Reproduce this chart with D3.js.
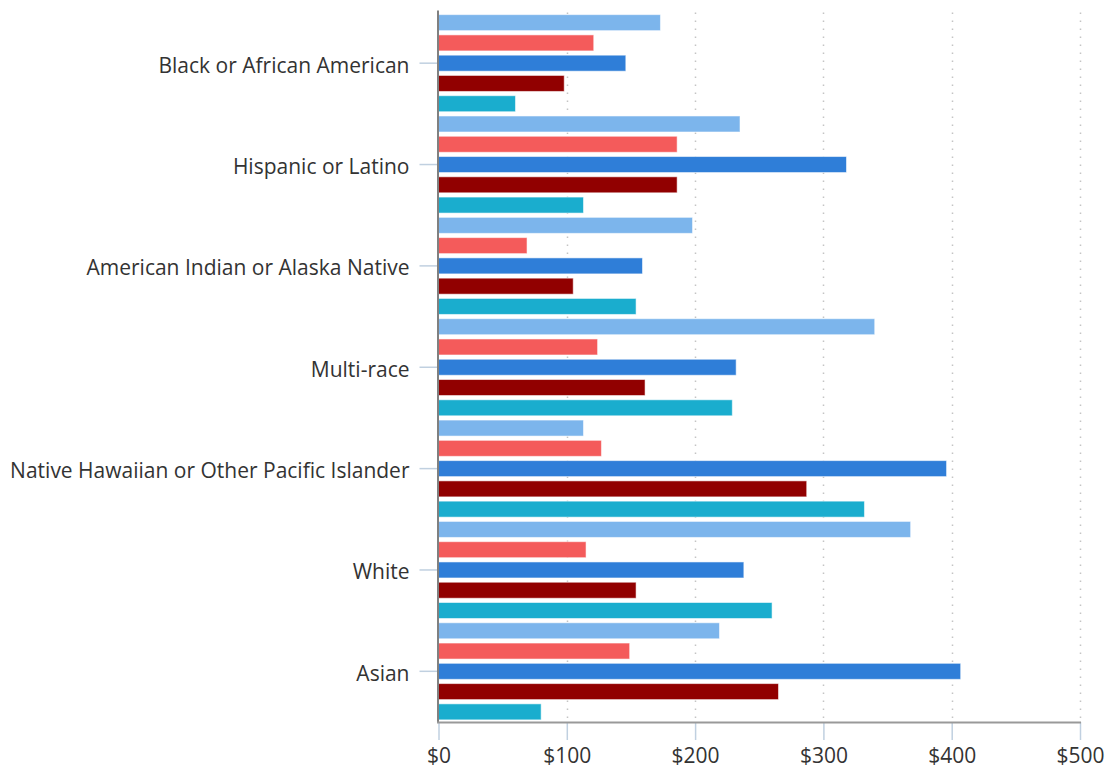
<!DOCTYPE html>
<html>
<head>
<meta charset="utf-8">
<script src="https://cdn.jsdelivr.net/npm/d3@7"></script>
<style>
  html, body { margin: 0; padding: 0; background: #fff; }
  svg { display: block; }
  text { font-family: "Open Sans", "Noto Sans", sans-serif; fill: #333; }
</style>
</head>
<body>
<svg id="chart" width="1111" height="768"></svg>
<script>
// Categories (top to bottom)
const categories = [
  "Black or African American",
  "Hispanic or Latino",
  "American Indian or Alaska Native",
  "Multi-race",
  "Native Hawaiian or Other Pacific Islander",
  "White",
  "Asian"
];

// Five series per category, in drawing order within each group
const seriesA = [173, 235, 198, 340, 113, 368, 219];
const seriesB = [121, 186, 69, 124, 127, 115, 149];
const seriesC = [146, 318, 159, 232, 396, 238, 407];
const seriesD = [98, 186, 105, 161, 287, 154, 265];
const seriesE = [60, 113, 154, 229, 332, 260, 80];

const seriesNames = ["A", "B", "C", "D", "E"];
const seriesColors = ["#7cb5ec", "#f45b5b", "#2f7ed8", "#910000", "#1aadce"];
const seriesValues = [seriesA, seriesB, seriesC, seriesD, seriesE];

const xTicks = [0, 100, 200, 300, 400, 500];

const svg = d3.select("#chart");
const plotLeft = 438.5, plotRight = 1080, plotTop = 12.5, plotBottom = 722;

const x = d3.scaleLinear().domain([0, 500]).range([plotLeft, plotRight]);
const y0 = d3.scaleBand().domain(categories).range([plotTop, plotBottom]).paddingInner(0).paddingOuter(0);
const y1 = d3.scaleBand().domain(seriesNames).range([0, y0.bandwidth()]).paddingInner(0.21).paddingOuter(0.105);

// Dotted vertical gridlines
svg.append("g")
  .selectAll("line")
  .data(xTicks.filter(d => d > 0))
  .join("line")
  .attr("x1", d => Math.round(x(d)) + 0.5)
  .attr("x2", d => Math.round(x(d)) + 0.5)
  .attr("y1", plotTop)
  .attr("y2", plotBottom)
  .attr("stroke", "#c4c4c4")
  .attr("stroke-width", 1.5)
  .attr("stroke-dasharray", "1.5,6.5");

// Bars
const groups = svg.append("g")
  .selectAll("g")
  .data(categories)
  .join("g")
  .attr("transform", d => `translate(0,${y0(d)})`);

groups.selectAll("rect")
  .data((c, i) => seriesNames.map((s, j) => ({ s, v: seriesValues[j][i], color: seriesColors[j] })))
  .join("rect")
  .attr("x", x(0))
  .attr("y", d => y1(d.s))
  .attr("width", d => x(d.v) - x(0))
  .attr("height", y1.bandwidth())
  .attr("fill", d => d.color)
  .attr("stroke", "rgba(255,255,255,0.55)")
  .attr("stroke-width", 1);

// Category axis
const yAxis = d3.axisLeft(y0).tickSize(18).tickPadding(10);
const gy = svg.append("g")
  .attr("transform", `translate(${plotLeft - 1},0)`)
  .call(yAxis);
gy.select(".domain").remove();
gy.selectAll(".tick line").attr("stroke", "#c0d0e0").attr("stroke-width", 1.5);
gy.selectAll(".tick text").attr("font-size", 21).attr("dy", "0.45em").style("fill", "#333");

svg.append("line")
  .attr("x1", plotLeft - 0.5).attr("x2", plotLeft - 0.5)
  .attr("y1", plotTop - 2).attr("y2", plotBottom)
  .attr("stroke", "#808080").attr("stroke-width", 2);

// Value axis
const xAxis = d3.axisBottom(x).tickValues(xTicks).tickSize(18).tickPadding(8)
  .tickFormat(d => "$" + d);
const gx = svg.append("g")
  .attr("transform", `translate(0,${plotBottom})`)
  .call(xAxis);
gx.select(".domain").remove();
gx.selectAll(".tick line").attr("stroke", "#c0d0e0").attr("stroke-width", 1.5);
gx.selectAll(".tick text").attr("font-size", 21).style("fill", "#333");

svg.append("line")
  .attr("x1", plotLeft - 1.5).attr("x2", plotRight + 1)
  .attr("y1", plotBottom + 0.5).attr("y2", plotBottom + 0.5)
  .attr("stroke", "#999").attr("stroke-width", 2);
</script>
</body>
</html>
